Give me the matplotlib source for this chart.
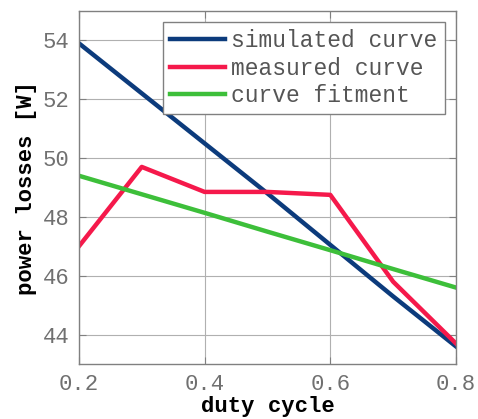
import matplotlib.pyplot as plt

# duty cycle points
duty = [0.2, 0.3, 0.4, 0.5, 0.6, 0.7, 0.8]

# power losses [W]
simulated = [53.9, 52.2, 50.5, 48.8, 47.05, 45.3, 43.6]
measured = [47.0, 49.7, 48.85, 48.85, 48.75, 45.8, 43.7]
fitment = [49.4, 48.77, 48.14, 47.5, 46.87, 46.23, 45.6]

labels = ['simulated curve', 'measured curve', 'curve fitment']
colors = ['#0c3b7c', '#f5194b', '#3dbf3a']

mono = 'Liberation Mono'

fig = plt.figure(figsize=(4.78, 4.19), dpi=100)
ax = fig.add_axes([0.165, 0.131, 0.789, 0.843])

for serie, lab, c in zip([simulated, measured, fitment], labels, colors):
    ax.plot(duty, serie, color=c, linewidth=3.2, label=lab)

ax.set_xlim(0.2, 0.8)
ax.set_ylim(43, 55)
ax.set_xticks([0.2, 0.4, 0.6, 0.8])
ax.set_xticklabels(['0.2', '0.4', '0.6', '0.8'])
ax.set_yticks([44, 46, 48, 50, 52, 54])

ax.grid(True, color='#b0b0b0', linewidth=0.8)
ax.set_axisbelow(True)
for s in ax.spines.values():
    s.set_color('#808080')
    s.set_linewidth(1.0)

ax.tick_params(direction='in', top=True, right=True, length=5, color='#808080',
               labelcolor='#707070', labelsize=16, pad=7)
for t in ax.get_xticklabels() + ax.get_yticklabels():
    t.set_fontfamily(mono)

ax.set_xlabel('duty cycle', fontfamily=mono, fontweight='bold', fontsize=16, labelpad=1)
ax.set_ylabel('power losses [W]', fontfamily=mono, fontweight='bold', fontsize=16, labelpad=4)

leg = ax.legend(loc='upper right', prop={'family': mono, 'size': 16.5}, fancybox=False,
                edgecolor='#808080', framealpha=1, handlelength=2.4, labelspacing=0.2,
                borderaxespad=0.5, handletextpad=0.3, borderpad=0.3)
leg.get_frame().set_linewidth(1.0)
for t in leg.get_texts():
    t.set_color('#555555')

fig.savefig('out.png', dpi=100)
